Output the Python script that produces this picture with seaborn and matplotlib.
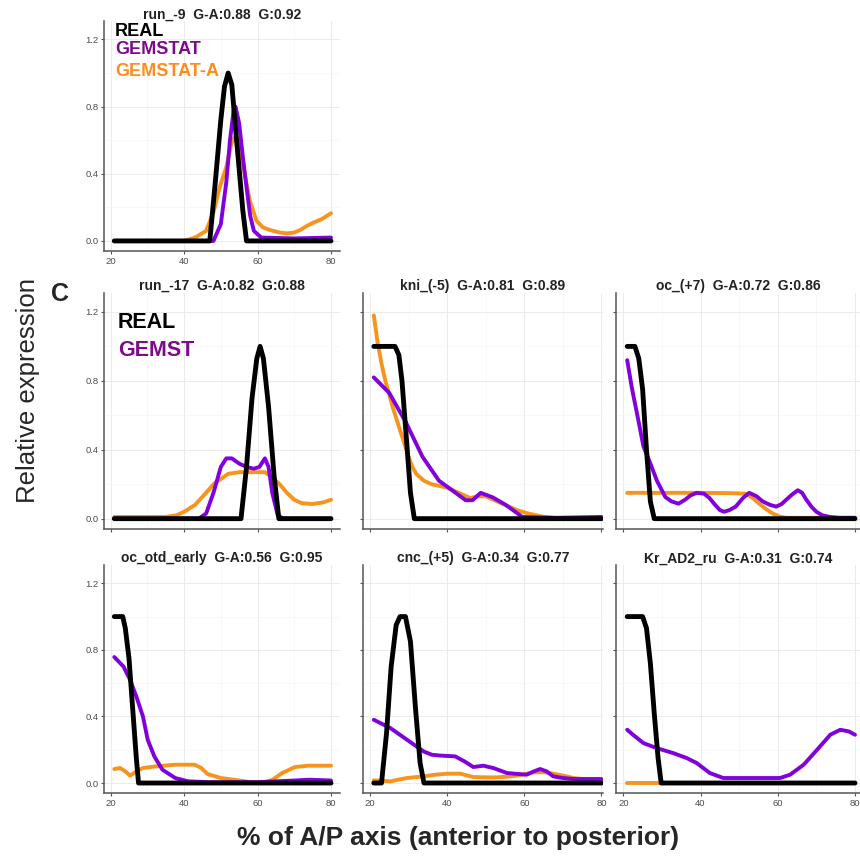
import matplotlib
matplotlib.use("Agg")
import matplotlib.pyplot as plt
import seaborn as sns
import pandas as pd

sns.set_style("white")
plt.rcParams["font.family"] = ["Liberation Sans", "DejaVu Sans"]

# ---------------- data ----------------
titles = ["run_-9  G-A:0.88  G:0.92", "run_-17  G-A:0.82  G:0.88",
          "kni_(-5)  G-A:0.81  G:0.89", "oc_(+7)  G-A:0.72  G:0.86",
          "oc_otd_early  G-A:0.56  G:0.95", "cnc_(+5)  G-A:0.34  G:0.77",
          "Kr_AD2_ru  G-A:0.31  G:0.74"]
x_ticks = [20, 40, 60, 80]
y_ticks = [0.0, 0.4, 0.8, 1.2]
y_tick_labels = ["0.0", "0.4", "0.8", "1.2"]

# panel 1: run_-9
p1_real_x = [21, 47, 48.5, 50, 51, 52, 53, 54.5, 56, 57, 80]
p1_real_y = [0, 0, 0.35, 0.72, 0.92, 1.0, 0.93, 0.55, 0.18, 0, 0]
p1_gem_x = [21, 48, 50, 51.5, 52.5, 53.5, 54, 55, 56, 57, 58, 59, 61, 70, 80]
p1_gem_y = [0, 0, 0.1, 0.35, 0.6, 0.78, 0.8, 0.7, 0.5, 0.32, 0.15, 0.06, 0.02, 0.015, 0.02]
p1_gema_x = [21, 40, 43, 46, 48, 49.7, 51.5, 52.9, 53.8, 55.2, 56.5, 57.9, 59.7, 61.5,
             63.4, 66, 68, 70, 71.6, 73.5, 75.3, 77.5, 80]
p1_gema_y = [0, 0, 0.02, 0.06, 0.17, 0.32, 0.44, 0.58, 0.62, 0.56, 0.4, 0.24, 0.12, 0.08,
             0.065, 0.05, 0.045, 0.05, 0.065, 0.09, 0.11, 0.13, 0.165]

# panel 2: run_-17
p2_real_x = [21, 55.5, 57, 58.5, 59.8, 60.7, 61.6, 63, 64.5, 65.8, 80]
p2_real_y = [0, 0, 0.3, 0.7, 0.93, 1.0, 0.93, 0.65, 0.25, 0, 0]
p2_gem_x = [21, 44, 46, 48, 50, 51.5, 53, 55, 57, 59, 60.5, 62, 63, 64, 65.5, 67, 80]
p2_gem_y = [0, 0, 0.03, 0.15, 0.3, 0.35, 0.35, 0.32, 0.3, 0.29, 0.3, 0.35, 0.3, 0.15, 0.02, 0, 0]
p2_gema_x = [21, 30, 35, 38, 40, 43, 46, 48, 50, 52, 55, 58, 62, 64, 66, 68, 70, 72, 75, 78, 80]
p2_gema_y = [0.01, 0.01, 0.01, 0.02, 0.04, 0.08, 0.15, 0.2, 0.23, 0.26, 0.27, 0.27, 0.27,
             0.24, 0.2, 0.15, 0.11, 0.09, 0.085, 0.095, 0.11]

# panel 3: kni_(-5)
p3_real_x = [21, 26.5, 27.5, 28.3, 29.5, 30.5, 31.5, 80]
p3_real_y = [1, 1, 0.95, 0.8, 0.45, 0.15, 0, 0]
p3_gem_x = [21, 25, 29.3, 33.6, 37.9, 41.3, 44.8, 46.6, 48.7, 51.7, 55.2, 59.5, 68.3, 80]
p3_gem_y = [0.82, 0.73, 0.56, 0.36, 0.22, 0.165, 0.107, 0.107, 0.15, 0.125, 0.08, 0.01, 0.005, 0.01]
p3_gema_x = [21, 22, 23, 24, 25, 26, 27, 28, 29, 30, 31, 32, 34, 36, 38, 40, 42, 44, 46,
             48, 50, 52, 55, 58, 61, 65, 70, 80]
p3_gema_y = [1.18, 1.02, 0.9, 0.8, 0.72, 0.64, 0.57, 0.5, 0.43, 0.36, 0.3, 0.26, 0.22, 0.2,
             0.19, 0.18, 0.16, 0.14, 0.12, 0.13, 0.13, 0.11, 0.08, 0.05, 0.03, 0.01, 0.0, 0.0]

# panel 4: oc_(+7)
p4_real_x = [21, 23, 24, 25, 26, 27, 28, 80]
p4_real_y = [1, 1, 0.93, 0.75, 0.4, 0.1, 0, 0]
p4_gem_x = [21, 22.2, 23.9, 25.2, 27, 28.7, 30.9, 32.5, 34.3, 36, 37.4, 39, 40.9, 42.3, 43.5,
            45, 46.1, 47.5, 49.1, 51, 52.6, 54.5, 56.1, 58, 59.6, 61, 62.2, 63.7, 65.2, 66.3,
            67.4, 68.7, 70, 71.5, 73.5, 76, 80]
p4_gem_y = [0.92, 0.76, 0.57, 0.42, 0.32, 0.22, 0.125, 0.1, 0.087, 0.11, 0.135, 0.15, 0.145,
            0.12, 0.087, 0.05, 0.04, 0.05, 0.07, 0.12, 0.15, 0.13, 0.1, 0.08, 0.07, 0.085, 0.11,
            0.14, 0.165, 0.15, 0.11, 0.07, 0.04, 0.02, 0.01, 0.005, 0.005]
p4_gema_x = [21, 30, 40, 48, 51.7, 53.5, 55.2, 57, 58.7, 60.5, 62.2, 80]
p4_gema_y = [0.15, 0.15, 0.15, 0.148, 0.145, 0.12, 0.087, 0.055, 0.03, 0.012, 0.005, 0.005]

# panel 5: oc_otd_early
p5_real_x = [21, 23.3, 24, 25, 26, 27, 27.6, 80]
p5_real_y = [1, 1, 0.93, 0.75, 0.45, 0.15, 0, 0]
p5_gem_x = [21, 23.5, 25.3, 27, 28.8, 30.1, 31.9, 34.1, 37.6, 41.1, 47, 60, 65, 70, 74, 80]
p5_gem_y = [0.757, 0.70, 0.62, 0.52, 0.40, 0.26, 0.16, 0.08, 0.03, 0.01, 0.005, 0.005, 0.01,
            0.015, 0.02, 0.015]
p5_gema_x = [21, 22.6, 24, 25.3, 27, 28.8, 32.3, 37.6, 42.9, 44.7, 46.4, 50, 53.5, 57.9, 61.4,
             64.1, 66.7, 70.2, 73.7, 80]
p5_gema_y = [0.084, 0.09, 0.07, 0.044, 0.07, 0.09, 0.1, 0.11, 0.11, 0.09, 0.054, 0.03, 0.02,
             0.006, 0, 0.02, 0.06, 0.096, 0.104, 0.104]

# panel 6: cnc_(+5)
p6_real_x = [21, 23, 24.3, 25.5, 26.8, 27.8, 29.2, 30.5, 31.8, 33, 34, 80]
p6_real_y = [0, 0, 0.3, 0.7, 0.95, 1, 1, 0.85, 0.45, 0.12, 0, 0]
p6_gem_x = [21, 25.3, 29.6, 33.9, 36, 38.2, 42.1, 44.5, 46.8, 49.4, 52, 55.5, 58, 60.6, 62.5,
            64.1, 65.8, 67.5, 70, 72.8, 80]
p6_gem_y = [0.38, 0.33, 0.26, 0.19, 0.17, 0.165, 0.16, 0.13, 0.096, 0.104, 0.09, 0.06, 0.055,
            0.05, 0.07, 0.084, 0.07, 0.04, 0.03, 0.024, 0.024]
p6_gema_x = [21, 25.3, 29.6, 33.9, 37, 40, 43.4, 46.8, 50, 52.9, 55.5, 58.1, 62.4, 65, 67.5,
             70, 72.8, 76, 80]
p6_gema_y = [0.016, 0.01, 0.03, 0.04, 0.05, 0.056, 0.056, 0.036, 0.034, 0.034, 0.038, 0.044,
             0.064, 0.065, 0.056, 0.045, 0.03, 0.022, 0.016]

# panel 7: Kr_AD2_ru
p7_real_x = [21, 25, 26, 27, 28, 29, 29.8, 80]
p7_real_y = [1, 1, 0.93, 0.72, 0.42, 0.15, 0, 0]
p7_gem_x = [21, 22.5, 25.2, 28.6, 32.9, 36.4, 39, 42.4, 45.9, 50.2, 55, 60.6, 63.2, 66.7, 70.2,
            73.6, 76.2, 78.4, 80]
p7_gem_y = [0.32, 0.29, 0.24, 0.21, 0.18, 0.15, 0.12, 0.06, 0.03, 0.03, 0.03, 0.03, 0.05,
            0.11, 0.2, 0.29, 0.32, 0.31, 0.29]
p7_gema_x = [21, 80]
p7_gema_y = [0, 0]

panels = [
    (p1_real_x, p1_real_y, p1_gem_x, p1_gem_y, p1_gema_x, p1_gema_y),
    (p2_real_x, p2_real_y, p2_gem_x, p2_gem_y, p2_gema_x, p2_gema_y),
    (p3_real_x, p3_real_y, p3_gem_x, p3_gem_y, p3_gema_x, p3_gema_y),
    (p4_real_x, p4_real_y, p4_gem_x, p4_gem_y, p4_gema_x, p4_gema_y),
    (p5_real_x, p5_real_y, p5_gem_x, p5_gem_y, p5_gema_x, p5_gema_y),
    (p6_real_x, p6_real_y, p6_gem_x, p6_gem_y, p6_gema_x, p6_gema_y),
    (p7_real_x, p7_real_y, p7_gem_x, p7_gem_y, p7_gema_x, p7_gema_y),
]

# ---------------- layout ----------------
W, H = 860, 859
C_REAL = "#000000"
C_GEM = "#8200DC"
C_GEMA = "#F7941D"

fig = plt.figure(figsize=(W / 100, H / 100), dpi=100)

cols = [(104, 340, (18.2, 82.45)), (363, 603, (18.2, 80.4)), (616, 860, (18.1, 81.3))]
rows = [(21, 251), (293, 529), (565, 793)]
# (row, col, show x labels, show y labels)
grid_pos = [(0, 0, True, True), (1, 0, False, True), (1, 1, False, False), (1, 2, False, False),
            (2, 0, True, True), (2, 1, True, False), (2, 2, True, False)]


def px_rect(l, r, t, b):
    return [l / W, 1 - b / H, (r - l) / W, (b - t) / H]


line_kw = dict(estimator=None, sort=False, solid_joinstyle="round", solid_capstyle="round")

for i, (ri, ci, xl, yl) in enumerate(grid_pos):
    l, r, xlim = cols[ci]
    t, b = rows[ri]
    ax = fig.add_axes(px_rect(l, r, t, b))
    rx, ry, gx, gy, ax_, ay = panels[i]
    sns.lineplot(x=ax_, y=ay, ax=ax, color=C_GEMA, lw=2.8, **line_kw)
    sns.lineplot(x=gx, y=gy, ax=ax, color=C_GEM, lw=2.8, **line_kw)
    sns.lineplot(x=rx, y=ry, ax=ax, color=C_REAL, lw=3.5, **line_kw)
    ax.set_xlim(*xlim)
    ax.set_ylim(-0.06, 1.31)
    ax.set_xticks(x_ticks)
    ax.set_xticks([30, 50, 70], minor=True)
    ax.set_yticks(y_ticks)
    ax.set_yticks([0.2, 0.6, 1.0], minor=True)
    ax.set_yticklabels(y_tick_labels if yl else [])
    ax.set_xticklabels([str(v) for v in x_ticks] if xl else [])
    ax.grid(which="major", color="#EBEBEB", lw=0.7)
    ax.grid(which="minor", color="#F5F5F5", lw=0.5)
    ax.set_axisbelow(True)
    ax.tick_params(which="major", length=2.5, width=0.8, color="#555555",
                   labelsize=6.8, labelcolor="#4D4D4D", pad=1.5, direction="out",
                   bottom=True, left=True)
    ax.tick_params(which="minor", length=0)
    for s in ["top", "right"]:
        ax.spines[s].set_visible(False)
    for s in ["left", "bottom"]:
        ax.spines[s].set_color("#555555")
        ax.spines[s].set_linewidth(1.1)
    ax.set_xlabel("")
    ax.set_ylabel("")
    ax.set_title(titles[i], fontsize=10, fontweight="bold", color="#222222", pad=2.0)


def ftext(x, y, s, **kw):
    fig.text(x / W, 1 - y / H, s, **kw)


# legends drawn as text
ftext(115, 31, "REAL", color="black", fontsize=13, fontweight="bold", va="center", ha="left")
ftext(115, 50, "GEMSTAT", color="#7D0A8C", fontsize=13, fontweight="bold", va="center", ha="left")
ftext(115, 71, "GEMSTAT-A", color="#FF8C1A", fontsize=13, fontweight="bold", va="center", ha="left")
ftext(118, 323, "REAL", color="black", fontsize=15.5, fontweight="bold", va="center", ha="left")
ftext(118, 350, "GEMST", color="#7D0A8C", fontsize=15.5, fontweight="bold", va="center", ha="left")

ftext(60, 294, "C", fontsize=18, fontweight="bold", va="center", ha="center")
ftext(28, 391, "Relative expression", fontsize=18.5, rotation=90, va="center", ha="center")
ftext(458, 838, "% of A/P axis (anterior to posterior)", fontsize=19, fontweight="bold",
      va="center", ha="center")

fig.savefig("out.png", dpi=100, facecolor="white")
